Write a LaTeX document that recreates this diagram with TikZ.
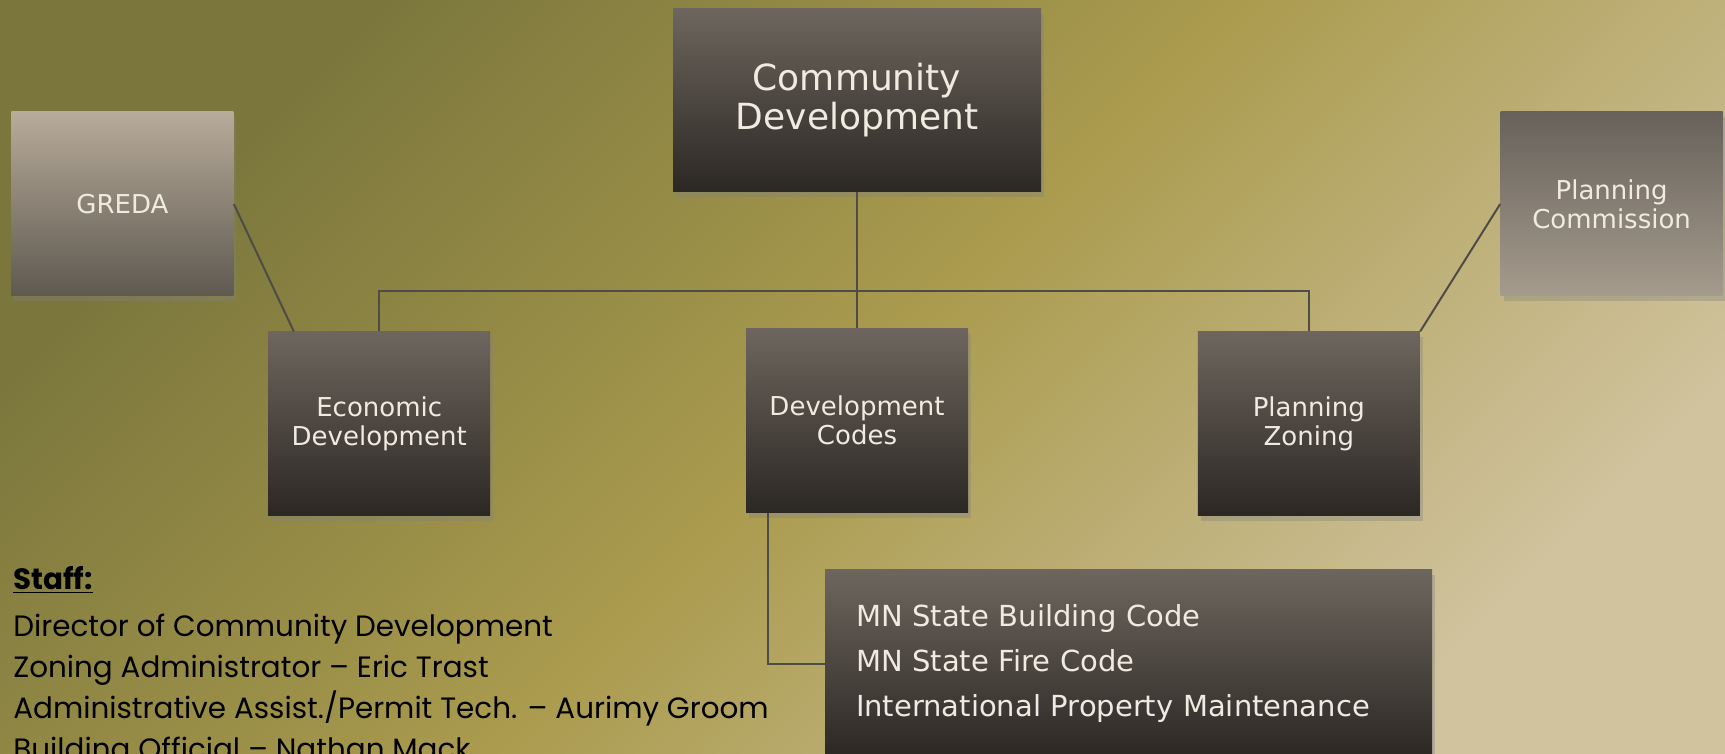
\documentclass[tikz,border=0pt]{standalone}
\usepackage{fontspec}
\setmainfont{DejaVu Sans}
\newfontfamily\stafffont{Poppins}
\usetikzlibrary{positioning,shadows}

\definecolor{olivedark}{HTML}{7A763C}
\definecolor{olivemid}{HTML}{AA9B4E}
\definecolor{tanlight}{HTML}{D0C39E}
\definecolor{boxtop}{HTML}{6E665E}
\definecolor{boxbottom}{HTML}{2B2723}
\definecolor{gredatop}{HTML}{B7AB9A}
\definecolor{gredabottom}{HTML}{5F5950}
\definecolor{pctop}{HTML}{67615A}
\definecolor{pcbottom}{HTML}{A59B8D}
\definecolor{boxtext}{HTML}{F0EBE0}
\definecolor{linkgrey}{HTML}{4E4C46}

\tikzset{
  dept/.style={rectangle,top color=boxtop,bottom color=boxbottom,text=boxtext,
    minimum width=111pt,minimum height=92pt,align=center,inner sep=2pt,
    font=\fontsize{13}{14.5}\selectfont,
    drop shadow={shadow xshift=1.5pt,shadow yshift=-2.5pt,opacity=0.35}},
  outside/.style={dept,top color=gredatop,bottom color=gredabottom},
  codelist/.style={dept,align=left,text width=272.5pt,inner xsep=15.5pt,
    minimum height=94pt,font=\fontsize{14.5}{22.5}\selectfont},
  staff/.style={align=left,inner sep=0pt,text=black,
    font=\stafffont\fontsize{14.7}{20.5}\selectfont},
  link/.style={draw=linkgrey,line width=1pt}
}

\begin{document}
\begin{tikzpicture}[x=0.5pt,y=-0.5pt,node distance=68pt]
\useasboundingbox (0,0) rectangle (1725,754);
\clip (0,0) rectangle (1725,754);
\shade[left color=olivedark,right color=tanlight,middle color=olivemid,shading angle=45]
  (0,0) rectangle (1725,754);

\node[dept,minimum width=184pt,minimum height=91.5pt,font=\fontsize{18}{19.5}\selectfont] (cd) at (857,100.5) {Community\\Development};
\node[dept,below=of cd] (codes) {Development\\Codes};
\node[dept,left=127.5pt of codes,yshift=-1.5pt] (econ) {Economic\\Development};
\node[dept,right=114.5pt of codes,yshift=-1.5pt] (zoning) {Planning\\Zoning};
\node[outside,above left=17.5pt and 17pt of econ] (greda) {GREDA};
\node[outside,top color=pctop,bottom color=pcbottom,above right=17.5pt and 40pt of zoning] (pc) {Planning\\Commission};
\node[codelist,below right=28pt and 39.5pt of codes.south west] (mn) {MN State Building Code\\MN State Fire Code\\International Property Maintenance};

\node[staff,anchor=north west] (staffbox) at (13,566) {\underline{\textbf{Staff:}}\\[3pt]
  Director of Community Development\\
  Zoning Administrator – Eric Trast\\
  Administrative Assist./Permit Tech. – Aurimy Groom\\
  Building Official – Nathan Mack};

\draw[link] (cd.south) -- (codes.north);
\draw[link] (econ.north) -- ++(0,-40) -| (zoning.north);
\draw[link] (greda.east) -- ([xshift=13pt]econ.north west);
\draw[link] (pc.west) -- (zoning.north east);
\draw[link] ([xshift=11pt]codes.south west) |- (mn.west);
\end{tikzpicture}
\end{document}
